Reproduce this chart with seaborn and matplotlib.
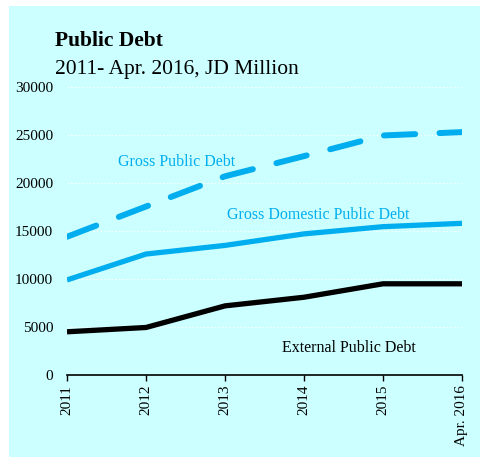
import matplotlib
matplotlib.use("Agg")
import matplotlib.pyplot as plt
from matplotlib.patches import Rectangle
import seaborn as sns
import pandas as pd

# Public debt, JD million
periods = ["2011", "2012", "2013", "2014", "2015", "Apr. 2016"]
gross_public = [14400, 17550, 20700, 22800, 24950, 25300]
gross_domestic = [9900, 12600, 13500, 14700, 15450, 15800]
external = [4500, 4950, 7200, 8100, 9500, 9500]
y_ticks = [0, 5000, 10000, 15000, 20000, 25000, 30000]

BG = "#CCFFFF"
CYAN = "#00AEEF"

sns.set_style("white")
plt.rcParams["font.family"] = ["Liberation Serif", "DejaVu Serif"]
plt.rcParams["lines.scale_dashes"] = False
plt.rcParams["text.color"] = "black"
plt.rcParams["xtick.color"] = "black"
plt.rcParams["ytick.color"] = "black"

df = pd.DataFrame({
    "pos": list(range(len(periods))),
    "gross": gross_public,
    "domestic": gross_domestic,
    "external": external,
})

fig = plt.figure(figsize=(4.8, 4.57), dpi=100)
fig.patch.set_facecolor("white")
fig.patches.append(Rectangle((9 / 480, 0), 1 - 9 / 480, 1 - 6 / 457,
                             transform=fig.transFigure, facecolor=BG,
                             edgecolor="none", zorder=-10))

ax = fig.add_axes([67 / 480, 1 - 375 / 457, (462 - 67) / 480, (375 - 87) / 457])
ax.set_facecolor(BG)

sns.lineplot(data=df, x="pos", y="gross", ax=ax, color=CYAN, lw=4.3,
             linestyle=(0, (22.5, 17.5)), dash_capstyle="round")
sns.lineplot(data=df, x="pos", y="domestic", ax=ax, color=CYAN, lw=3.8,
             solid_capstyle="butt")
sns.lineplot(data=df, x="pos", y="external", ax=ax, color="black", lw=3.8,
             solid_capstyle="butt")

ax.set_xlim(0, len(periods) - 1)
ax.set_ylim(0, 30000)
ax.set_yticks(y_ticks)
ax.set_yticklabels([str(v) for v in y_ticks], fontsize=11)
ax.set_xticks(range(len(periods)))
ax.set_xticklabels(periods, rotation=90, fontsize=11, va="top")
ax.tick_params(axis="y", length=0, pad=10, labelcolor="black")
ax.tick_params(axis="x", length=4, width=1, direction="out", pad=3,
               bottom=True, color="black", labelcolor="black")
ax.set_xlabel("")
ax.set_ylabel("")

for s in ["top", "right", "left"]:
    ax.spines[s].set_visible(False)
ax.spines["bottom"].set_color("black")
ax.spines["bottom"].set_linewidth(1.2)

ax.yaxis.grid(True, color="white", linestyle=":", linewidth=0.8)
ax.set_axisbelow(True)

ax.text(1.39, 22200, "Gross Public Debt", color=CYAN, fontsize=11.5,
        ha="center", va="center")
ax.text(3.18, 16650, "Gross Domestic Public Debt", color=CYAN, fontsize=11.5,
        ha="center", va="center")
ax.text(3.57, 2800, "External Public Debt", color="black", fontsize=11.5,
        ha="center", va="center")

fig.text(55 / 480, 1 - 46 / 457, "Public Debt", fontsize=15.5, color="black",
         fontweight="bold", ha="left", va="baseline")
fig.text(55 / 480, 1 - 74 / 457, "2011- Apr. 2016, JD Million", fontsize=15.5,
         color="black", ha="left", va="baseline")

fig.savefig("out.png", dpi=100, facecolor=fig.get_facecolor())
